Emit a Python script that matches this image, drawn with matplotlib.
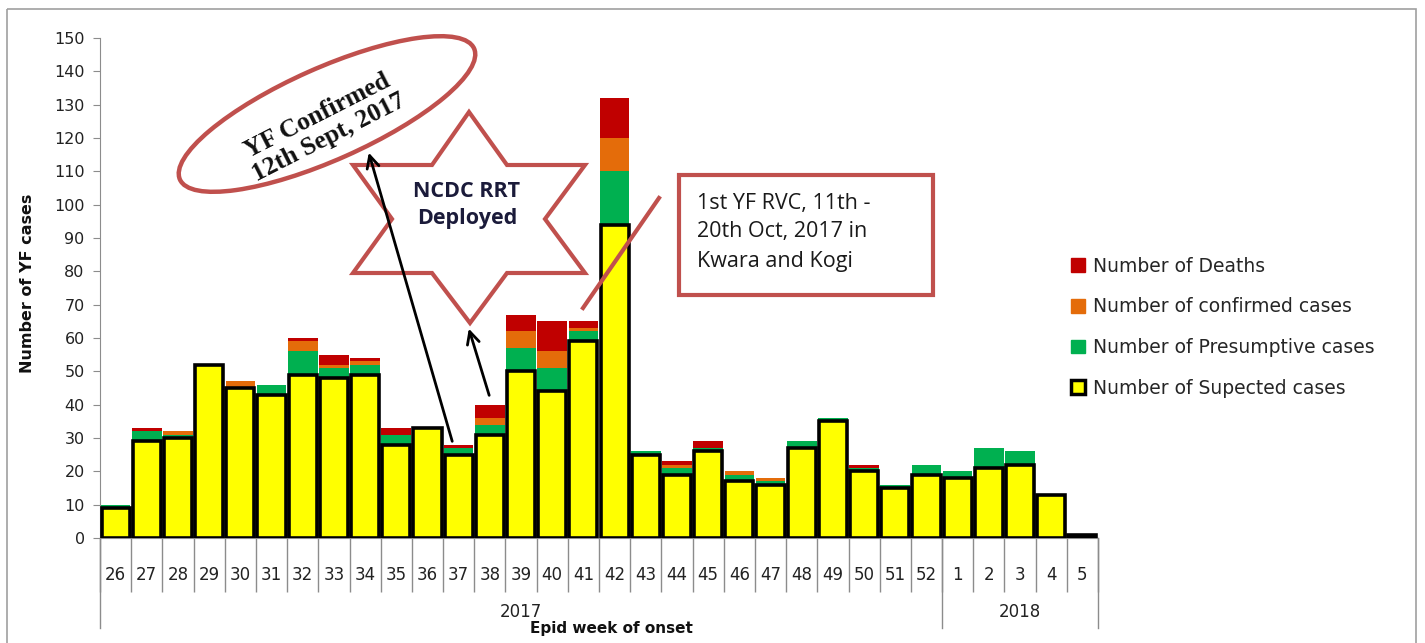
import matplotlib
matplotlib.use("Agg")
import matplotlib.pyplot as plt
from matplotlib.patches import Ellipse, Polygon, Rectangle, Patch
import numpy as np

# data
weeks = ['26', '27', '28', '29', '30', '31', '32', '33', '34', '35', '36', '37', '38',
         '39', '40', '41', '42', '43', '44', '45', '46', '47', '48', '49', '50', '51',
         '52', '1', '2', '3', '4', '5']
suspected = [9, 29, 30, 52, 45, 43, 49, 48, 49, 28, 33, 25, 31, 50, 44, 59, 94, 25, 19,
             26, 17, 16, 27, 35, 20, 15, 19, 18, 21, 22, 13, 1]
presumptive = [1, 3, 1, 0, 0, 3, 7, 3, 3, 3, 0, 2, 3, 7, 7, 3, 16, 1, 2, 1, 2, 1, 2, 1,
               1, 1, 3, 2, 6, 4, 0, 0]
confirmed = [0, 0, 1, 0, 2, 0, 3, 1, 1, 0, 0, 0, 2, 5, 5, 1, 10, 0, 1, 0, 1, 1, 0, 0, 0,
             0, 0, 0, 0, 0, 0, 0]
deaths = [0, 1, 0, 0, 0, 0, 1, 3, 1, 2, 0, 1, 4, 5, 9, 2, 12, 0, 1, 2, 0, 0, 0, 0, 1, 0,
          0, 0, 0, 0, 0, 0]
years = ['2017', '2018']
year_counts = [27, 5]
yticks = list(range(0, 151, 10))

YELLOW = '#FFFF00'
GREEN = '#00B050'
ORANGE = '#E46C0A'
RED = '#C00000'
SHAPE = '#C0504D'
GREY = '#8C8C8C'

W, H = 1425, 643
fig = plt.figure(figsize=(W / 100, H / 100), dpi=100)

# axes placed in pixel terms
x0, x1, ytop, ybot = 100, 1098, 38, 538
ax = fig.add_axes([x0 / W, 1 - ybot / H, (x1 - x0) / W, (ybot - ytop) / H])

x = np.arange(len(weeks))
s = np.array(suspected)
p = np.array(presumptive)
c = np.array(confirmed)
d = np.array(deaths)

bw = 0.95
ax.bar(x, p, bw, bottom=s, color=GREEN, zorder=2)
ax.bar(x, c, bw, bottom=s + p, color=ORANGE, zorder=2)
ax.bar(x, d, bw, bottom=s + p + c, color=RED, zorder=2)
ax.bar(x, s, 0.9, color=YELLOW, edgecolor='black', linewidth=2.6, zorder=3)

ax.set_xlim(-0.5, len(weeks) - 0.5)
ax.set_ylim(0, 150)
ax.set_yticks(yticks)
ax.tick_params(axis='y', length=5, color=GREY, labelsize=11.5, labelcolor='#222222', pad=6)

for sp in ['top', 'right']:
    ax.spines[sp].set_visible(False)
ax.spines['left'].set_color(GREY)
ax.spines['bottom'].set_color(GREY)

# category boxes below the axis
ax.set_xticks(np.arange(len(weeks) + 1) - 0.5)
ax.set_xticklabels([])
ax.tick_params(axis='x', which='major', length=39, color=GREY, width=1)
ax.set_xticks(x, minor=True)
ax.set_xticklabels(weeks, minor=True, fontsize=12, color='#222222')
ax.tick_params(axis='x', which='minor', length=0, pad=20)

# year groups
trans = ax.get_xaxis_transform()
edges = np.concatenate([[0], np.cumsum(year_counts)]) - 0.5
for e in edges:
    ax.plot([e, e], [0, -0.18], color=GREY, lw=1, transform=trans, clip_on=False)
for i, yr in enumerate(years):
    mid = (edges[i] + edges[i + 1]) / 2
    ax.text(mid, -0.148, yr, transform=trans, ha='center', va='center',
            fontsize=12, color='#222222')

# legend
handles = [Patch(facecolor=RED, edgecolor=RED),
           Patch(facecolor=ORANGE, edgecolor=ORANGE),
           Patch(facecolor=GREEN, edgecolor=GREEN),
           Patch(facecolor=YELLOW, edgecolor='black', linewidth=2.5)]
labels = ['Number of Deaths', 'Number of confirmed cases',
          'Number of Presumptive cases', 'Number of Supected cases']
leg = fig.legend(handles, labels, loc='upper left', bbox_to_anchor=(1054 / W, 1 - 240 / H),
                 frameon=False, fontsize=13.5, labelspacing=1.15, handlelength=0.75,
                 handleheight=0.75, handletextpad=0.45, labelcolor='#262626')

# overlay in pixel coordinates for frame and annotations
ov = fig.add_axes([0, 0, 1, 1], facecolor='none')
ov.set_xlim(0, W)
ov.set_ylim(H, 0)
ov.axis('off')

ov.add_patch(Rectangle((7, 9), 1409, 700, fill=False, edgecolor='#A0A0A0', lw=1.2))

fig.text(27 / W, 1 - 283 / H, 'Number of YF cases', rotation=90, ha='center', va='center',
         fontsize=11.5, fontweight='bold', color='#111111')
fig.text(611 / W, 1 - 629 / H, 'Epid week of onset', ha='center', va='center',
         fontsize=11, fontweight='bold', color='#111111')

# ellipse note
ov.add_patch(Ellipse((327, 114), 322, 92, angle=-24, fill=False, edgecolor=SHAPE, lw=3.2))
ov.text(323, 127, 'YF Confirmed\n12th Sept, 2017', rotation=27, ha='center', va='center',
        fontsize=18.5, fontweight='bold', family='Liberation Serif', linespacing=1.05,
        rotation_mode='anchor', color='#111111')
ov.annotate('', xy=(368, 150), xytext=(453, 444),
            arrowprops=dict(arrowstyle='->', lw=2, color='black', mutation_scale=22))

# star note
star = [(469, 112), (507, 165), (585, 165), (545, 219), (585, 273), (507, 273),
        (470, 323), (432, 273), (353, 273), (392, 219), (353, 165), (432, 165)]
ov.add_patch(Polygon(star, closed=True, fill=False, edgecolor=SHAPE, lw=3))
ov.text(467, 205, 'NCDC RRT\nDeployed', ha='center', va='center', fontsize=15.5,
        fontweight='bold', family='Open Sans', color='#1b1b3a', linespacing=1.35)
ov.annotate('', xy=(468, 326), xytext=(490, 398),
            arrowprops=dict(arrowstyle='->', lw=2, color='black', mutation_scale=22))

# RVC box
ov.add_patch(Rectangle((679, 175), 254, 120, fill=False, edgecolor=SHAPE, lw=3))
ov.text(697, 232, '1st YF RVC, 11th -\n20th Oct, 2017 in\nKwara and Kogi', ha='left',
        va='center', fontsize=15.5, family='Open Sans', color='#1a1a1a', linespacing=1.5)
ov.plot([583, 659], [308, 198], color=SHAPE, lw=3)

fig.savefig('out.png', dpi=100)
